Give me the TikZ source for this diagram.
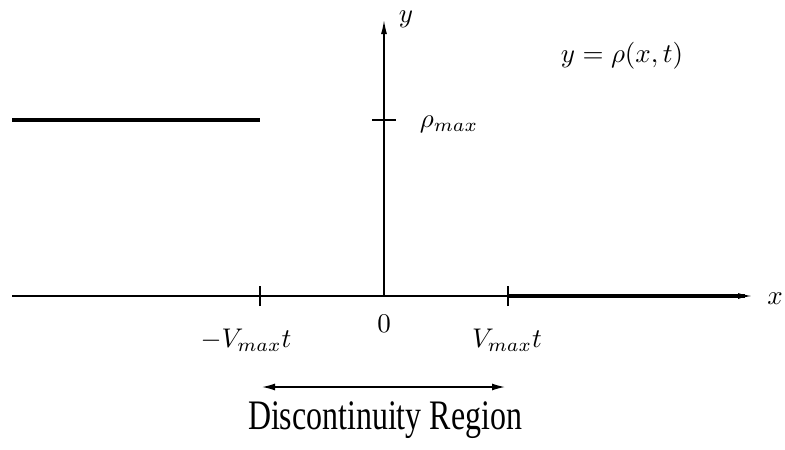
\documentclass[tikz,border=0pt]{standalone}
\usepackage{fontspec}
\setmainfont{Liberation Serif}
\usetikzlibrary{arrows.meta}
\begin{document}
\begin{tikzpicture}[x=1pt,y=-1pt,
  axis/.style={line width=1.4pt,-{Latex[length=14pt,width=6pt]}},
  thick line/.style={line width=3.2pt},
  tick/.style={line width=1.2pt},
  lab/.style={inner sep=0pt, scale=2.7, transform shape},
  region/.style={line width=1.4pt,{Latex[length=13pt,width=7pt]}-{Latex[length=13pt,width=7pt]}}]
\useasboundingbox (0,0) rectangle (785,450);
\coordinate (xl) at (12,296);
\coordinate (xr) at (752,296);
\coordinate (o) at (384,296);
\coordinate (yt) at (384,20);
\coordinate (tl) at (260,296);
\coordinate (tr) at (508,296);
\coordinate (rm) at (384,120);
\draw[axis] (xl) -- (xr);
\draw[axis] (o) -- (yt);
\draw[tick] ([yshift=-10pt]tl) -- ([yshift=10pt]tl);
\draw[tick] ([yshift=-10pt]tr) -- ([yshift=10pt]tr);
\draw[tick] ([xshift=-12pt]rm) -- ([xshift=12pt]rm);
\coordinate (l1) at (12,120);
\coordinate (l2) at (260,120);
\coordinate (r2) at (745,296);
\draw[thick line] (l1) -- (l2);
\draw[thick line] (tr) -- (r2);
\node[lab] (ylab) at (406,19) {$y$};
\node[lab] (xlab) at (775,299) {$x$};
\node[lab] (rho) at (449,124) {$\rho_{max}$};
\node[lab] (eq) at (622,56) {$y=\rho(x,t)$};
\node[lab] (zero) at (384,324) {$0$};
\node[lab] (vl) at (246,340) {$-V_{max}t$};
\node[lab] (vr) at (507,340) {$V_{max}t$};
\coordinate (al) at (262,387);
\coordinate (ar) at (505,387);
\draw[region] (al) -- (ar);
\node[inner sep=0pt, font=\fontsize{42}{46}\selectfont, xscale=0.76, transform shape] (disc) at (385,420) {Discontinuity Region};
\end{tikzpicture}
\end{document}
